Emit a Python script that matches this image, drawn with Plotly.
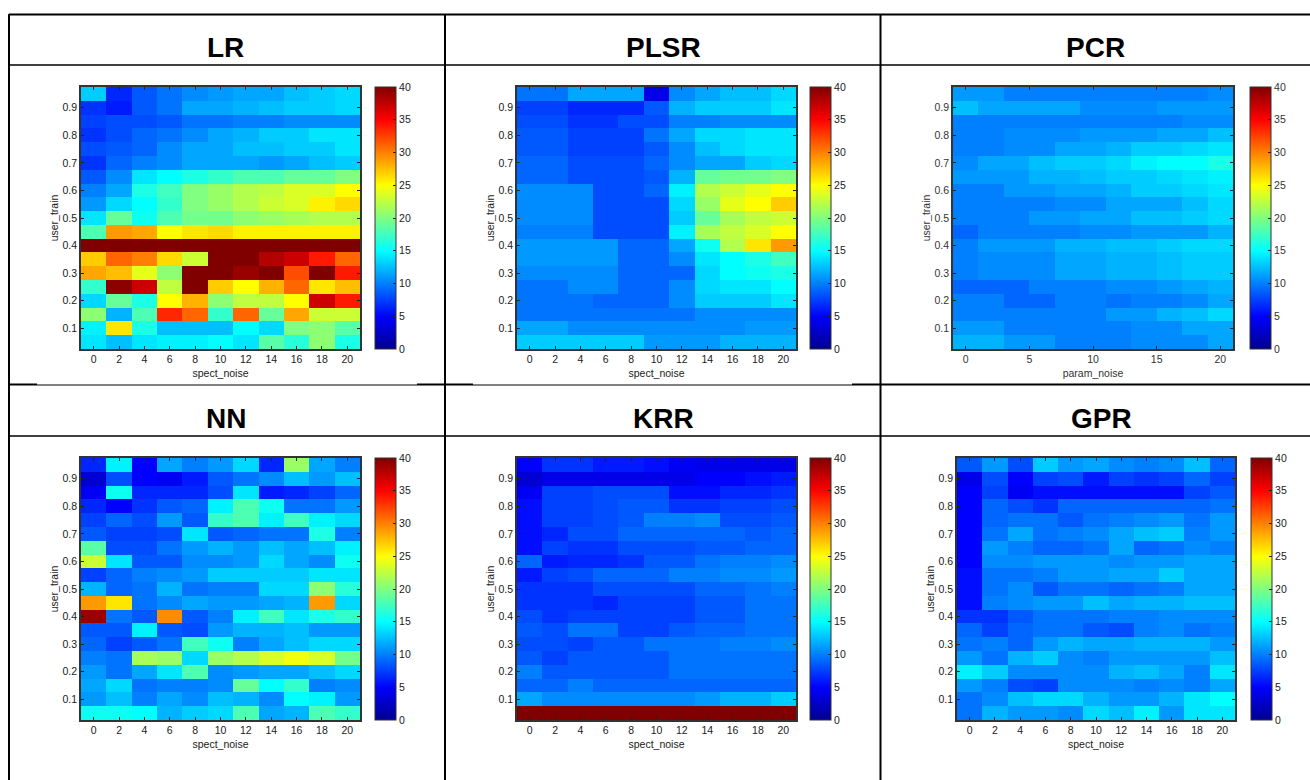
import plotly.graph_objects as go

W, H = 1310, 780
FONT = "Liberation Sans"

x_even = [0, 2, 4, 6, 8, 10, 12, 14, 16, 18, 20]
user_train = [0.95, 0.90, 0.85, 0.80, 0.75, 0.70, 0.65, 0.60, 0.55, 0.50,
              0.45, 0.40, 0.35, 0.30, 0.25, 0.20, 0.15, 0.10, 0.05]
y_ticks = [0.1, 0.2, 0.3, 0.4, 0.5, 0.6, 0.7, 0.8, 0.9]
cbar_ticks = [0, 5, 10, 15, 20, 25, 30, 35, 40]

LR = [
    [13, 6.5, 8.5, 9.5, 10.5, 11, 11.5, 11.5, 12.5, 13, 13.5],
    [7, 6, 8.5, 9.5, 11.5, 11.5, 12, 12.5, 13, 13, 13.5],
    [7.5, 8, 8, 8.5, 9.5, 9.5, 10, 10, 10.5, 10.5, 10.5],
    [7, 8, 9, 9.5, 10.5, 11.5, 12, 13, 13, 14, 14],
    [8, 8.5, 9, 10.5, 11.5, 11.5, 12.5, 12.5, 13, 13, 14],
    [7, 9, 10, 10.5, 11.5, 11.5, 11.5, 11, 11.5, 12.5, 13],
    [8.5, 10.5, 14, 15, 16, 17, 18, 18, 19, 19, 20],
    [10, 11.5, 16, 17.5, 20, 21, 22, 22.5, 23.5, 23.5, 25],
    [11, 13.5, 15, 17, 20, 21, 22, 23, 23.5, 25.5, 26.5],
    [14, 19, 15.5, 18, 19.5, 19.5, 20.5, 21, 21.5, 22, 22],
    [18, 29, 28.5, 25, 26, 26.5, 25.5, 25.5, 25.5, 25.5, 25.5],
    [40, 40, 40, 40, 40, 40, 40, 40, 40, 40, 40],
    [27, 31, 30, 26.5, 23, 40, 40, 38, 37, 34, 31],
    [28.5, 27.5, 24, 20.5, 40, 40, 39, 40, 32, 40, 34],
    [17, 39.5, 37, 22.5, 40, 27, 25, 28, 31, 26, 27.5],
    [13.5, 19, 16, 25, 28, 20.5, 22.5, 22.5, 25, 37, 34],
    [20.5, 12, 18, 33.5, 31, 17, 31, 19, 28.5, 23, 23],
    [14.5, 26, 16, 12.5, 12.5, 12.5, 15, 13.5, 20, 20.5, 18.5],
    [14, 12.5, 14, 14.5, 14.5, 15, 14, 18.5, 16.5, 20.5, 16],
]
PLSR = [
    [9.5, 9.5, 11.5, 11.5, 11.5, 4, 10.5, 11.5, 12.5, 12.5, 13.5],
    [7.5, 7.5, 6.5, 6.5, 6.5, 8.5, 12, 13, 13, 13, 14],
    [8, 8, 7, 7, 8, 8, 10, 10, 10.5, 10.5, 10.5],
    [8.5, 8.5, 7.5, 7.5, 7.5, 9.5, 11.5, 13.5, 13.5, 14, 14],
    [8.5, 8.5, 7.5, 7.5, 7.5, 8.5, 10.5, 12.5, 13.5, 14, 14],
    [9, 9, 8, 8, 8, 9, 10.5, 11.5, 11.5, 13, 13.5],
    [9, 9, 8, 8, 8, 8.5, 12, 19, 19.5, 19.5, 20],
    [10.5, 10.5, 10.5, 8, 8, 9, 14.5, 22, 23, 24, 25],
    [10.5, 10.5, 10.5, 8, 8, 8, 13.5, 21, 24, 25, 27],
    [10.5, 10.5, 10.5, 8, 8, 8, 13, 19, 21.5, 22.5, 23],
    [10, 10, 10, 8, 8, 8, 14.5, 21.5, 22.5, 23.5, 25],
    [11, 11, 11, 11, 9, 9, 11.5, 15.5, 22, 26, 29],
    [11, 11, 11, 11, 9, 9, 10.5, 14, 15, 16, 17.5],
    [10.5, 10.5, 10.5, 10.5, 9, 9, 9, 13.5, 15, 15.5, 16],
    [9.5, 9.5, 10.5, 10.5, 9, 9, 10.5, 13.5, 14, 14, 15],
    [9.5, 9.5, 9.5, 9, 9, 9, 10.5, 13, 13, 13, 14],
    [9.5, 9.5, 9.5, 9.5, 9.5, 9.5, 9.5, 10.5, 10.5, 10.5, 10.5],
    [11.5, 11.5, 10.5, 10.5, 10.5, 10.5, 10.5, 10.5, 10.5, 11, 11],
    [13, 13, 13, 13, 13, 11, 11, 11, 12, 12, 12],
]
PCR = [
    [11, 11, 10, 10, 10, 10, 10, 10, 10, 10, 10.5],
    [12.5, 11.5, 11.5, 11.5, 11.5, 10.5, 10.5, 10.5, 11, 11, 11],
    [10, 10, 10, 10, 10, 10, 10, 10, 10, 10.5, 10.5],
    [10, 10, 10.5, 10.5, 10.5, 11, 11, 11, 11.5, 11.5, 12.5],
    [10, 10, 10.5, 10.5, 11.5, 11.5, 12, 13, 13, 13.5, 14],
    [10.5, 11.5, 11.5, 12.5, 13, 13, 13.5, 14.5, 15, 15, 16],
    [11, 11, 11, 12, 12, 12.5, 13, 13, 13.5, 14, 14.5],
    [10, 10, 11, 11, 11.5, 11.5, 12, 13, 13, 13.5, 14],
    [10, 10, 10, 10, 10.5, 10.5, 11.5, 11.5, 11.5, 12.5, 13.5],
    [10, 10, 10, 11, 11, 11.5, 11.5, 12.5, 12.5, 13, 13.5],
    [9, 10, 10, 10, 10, 10.5, 10.5, 11, 11, 11, 12],
    [10, 11, 11, 11, 12, 12, 12.5, 12.5, 13, 13.5, 13.5],
    [10, 10.5, 10.5, 10.5, 11.5, 11.5, 12, 12, 12.5, 13, 13],
    [10, 10.5, 10.5, 10.5, 11.5, 11.5, 12, 12, 12.5, 13, 13],
    [9, 9, 9, 10, 10, 10, 10.5, 10.5, 11, 11.5, 12],
    [10, 10, 9, 9, 10, 10, 9.5, 10, 10, 10.5, 11.5],
    [10, 10, 10, 10, 10, 10, 11, 11, 12, 12.5, 13.5],
    [11, 11, 10, 10, 10, 10, 10, 10.5, 10.5, 11.5, 11.5],
    [12, 12, 11, 11, 10, 10, 10, 10.5, 10.5, 10.5, 11.5],
]
NN = [
    [6.5, 14.5, 5, 11.5, 10, 11, 13.5, 6.5, 21, 11.5, 10],
    [3, 8, 5, 4.5, 6, 8.5, 9.5, 10.5, 12.5, 11, 12.5],
    [4.5, 15.5, 6.5, 6.5, 6.5, 8, 14, 6, 6.5, 7.5, 9],
    [6.5, 5, 7, 8.5, 9, 14.5, 18, 15.5, 9.5, 9.5, 11],
    [7.5, 9, 8, 11, 8.5, 17, 18, 14.5, 17.5, 14.5, 13.5],
    [8.5, 7.5, 7.5, 8, 14, 8.5, 9, 9.5, 9.5, 16, 10],
    [18.5, 8, 8, 9.5, 11, 12, 11, 12.5, 11.5, 12.5, 14.5],
    [23, 14, 8.5, 8.5, 10.5, 10.5, 11, 13.5, 11.5, 10.5, 15.5],
    [7.5, 9, 10, 10.5, 11, 13, 13, 13, 13, 14, 14],
    [12, 9, 9.5, 12, 9.5, 10, 10, 13.5, 13.5, 20.5, 16.5],
    [29, 26, 9.5, 10.5, 11.5, 11, 11, 11.5, 12, 29, 13.5],
    [39, 9.5, 8.5, 29.5, 8.5, 10, 14.5, 17.5, 14, 16, 17],
    [8.5, 8.5, 14.5, 8.5, 8, 11, 12, 12, 12.5, 11, 11],
    [9, 7.5, 8.5, 9.5, 17.5, 15.5, 10, 11.5, 12.5, 13.5, 13.5],
    [10, 9.5, 21.5, 21, 13.5, 21, 22, 23.5, 24.5, 23.5, 19.5],
    [11, 9.5, 11.5, 14, 18, 10.5, 11, 11.5, 11.5, 12.5, 13.5],
    [11.5, 13.5, 9.5, 10, 10, 10.5, 19, 15, 17, 10, 10.5],
    [11, 12.5, 10, 11.5, 10.5, 12.5, 12, 10.5, 15, 14.5, 11],
    [15.5, 15.5, 15, 12, 13, 13.5, 18, 11.5, 12, 18, 17],
]
KRR = [
    [5, 7, 7, 6, 6, 5.5, 4.5, 4, 4, 4, 4],
    [3, 4, 4, 4, 4, 4, 4, 5, 5, 5.5, 6],
    [4.5, 7.5, 7.5, 8, 8, 8, 5.5, 5.5, 6.5, 6.5, 7],
    [5.5, 7.5, 7.5, 8, 8.5, 8.5, 7, 7, 7.5, 7.5, 8],
    [5.5, 7.5, 7.5, 8, 8.5, 10, 10, 10.5, 8, 8, 8.5],
    [5.5, 6.5, 8, 8, 9, 9, 9, 9, 9, 8.5, 9],
    [5.5, 7.5, 7, 7, 8, 8, 8, 8.5, 8.5, 9, 9],
    [9, 6, 6.5, 6.5, 7, 8.5, 8.5, 9.5, 10, 10, 10.5],
    [6, 7.5, 8, 9, 9, 9, 10, 10, 10.5, 10.5, 11],
    [7, 7, 7, 8, 8, 8, 8, 9, 9, 9.5, 10],
    [7, 7, 7, 6.5, 7.5, 7.5, 7.5, 8.5, 8.5, 9.5, 9.5],
    [8, 7, 7.5, 7.5, 7.5, 7.5, 7.5, 8.5, 8.5, 9.5, 9.5],
    [8.5, 8, 9.5, 9.5, 7.5, 7.5, 8.5, 9, 9, 9.5, 9.5],
    [8, 8, 7.5, 8.5, 8.5, 9.5, 9.5, 9.5, 10, 10, 10.5],
    [8.5, 7.5, 8.5, 8.5, 8.5, 8.5, 9.5, 9.5, 9.5, 9.5, 9.5],
    [10, 8.5, 8.5, 8.5, 8.5, 8.5, 9.5, 9.5, 9.5, 9.5, 9.5],
    [9, 9, 10, 9, 9, 9, 9, 9, 9, 9, 9],
    [11.5, 10.5, 10.5, 10.5, 10.5, 10.5, 10.5, 11, 12, 12, 13],
    [40, 40, 40, 40, 40, 40, 40, 40, 40, 40, 40],
]
GPR = [
    [8.5, 11, 8, 13, 11, 11.5, 10.5, 10, 10.5, 12.5, 9],
    [4, 8, 5, 7.5, 8, 6, 7.5, 7, 7.5, 9, 7.5],
    [5, 7.5, 4.5, 5.5, 5.5, 5.5, 5.5, 5.5, 5.5, 7.5, 8.5],
    [5, 9, 8, 7, 9, 9, 9, 9, 9, 9, 9.5],
    [5, 9, 9.5, 9.5, 8.5, 9.5, 10, 10.5, 11, 9.5, 11],
    [5, 9.5, 11.5, 9.5, 10, 10.5, 11.5, 12.5, 13, 10, 11],
    [5, 11, 10, 9, 9, 9.5, 11.5, 9, 9.5, 10.5, 10],
    [5, 10.5, 10.5, 11, 11, 11, 10.5, 11, 11, 11.5, 11.5],
    [5.5, 9.5, 9.5, 10, 11, 11, 11.5, 11.5, 13, 11.5, 11.5],
    [5.5, 9.5, 10.5, 8.5, 9.5, 9.5, 9, 9.5, 10, 11.5, 11.5],
    [5.5, 10, 10.5, 11, 11, 12.5, 11.5, 12, 12, 12.5, 12.5],
    [7, 7, 8.5, 9.5, 9.5, 9.5, 10, 10, 10.5, 10.5, 10.5],
    [9, 7.5, 9, 9.5, 9.5, 8.5, 8, 10, 10.5, 9.5, 10],
    [9.5, 10, 9, 11, 12, 11.5, 11.5, 12, 12, 12, 11],
    [11, 9.5, 12, 13, 10.5, 10, 11, 11, 11, 11, 12.5],
    [14.5, 13, 10.5, 10.5, 10.5, 10.5, 12, 12.5, 11.5, 10, 14],
    [11, 10, 8, 7.5, 10.5, 10.5, 10.5, 10, 10.5, 10, 11.5],
    [9.5, 10.5, 12.5, 13.5, 13.5, 12, 11, 11, 12, 14, 15],
    [9.5, 12, 11, 11, 10.5, 13.5, 12.5, 14.5, 11, 14, 14],
]

JET = [
    [0.0, "rgb(0,0,143)"], [0.125, "rgb(0,0,255)"], [0.375, "rgb(0,255,255)"],
    [0.625, "rgb(255,255,0)"], [0.875, "rgb(255,0,0)"], [1.0, "rgb(128,0,0)"],
]

# name, z, x title, x ticks, title centre x, title centre y,
# plot x0, x1, y0, y1, colourbar x0, text colour
panels = [
    ("LR", LR, "spect_noise", x_even, 226, 47, 81, 360, 87, 349, 375, "#1a1a1a"),
    ("PLSR", PLSR, "spect_noise", x_even, 663, 47, 517, 796, 87, 349, 810, "#1a1a1a"),
    ("PCR", PCR, "param_noise", [0, 5, 10, 15, 20], 1095, 47, 953, 1233, 87, 349, 1250, "#333333"),
    ("NN", NN, "spect_noise", x_even, 226, 418, 81, 360, 458, 720, 375, "#1a1a1a"),
    ("KRR", KRR, "spect_noise", x_even, 663, 418, 517, 796, 458, 720, 810, "#1a1a1a"),
    ("GPR", GPR, "spect_noise", x_even, 1101, 418, 957, 1235, 458, 720, 1251, "#1a1a1a"),
]

fig = go.Figure()
annotations = []
for i, (name, z, xt, xticks, tx, ty, x0, x1, y0, y1, cx, ink) in enumerate(panels, start=1):
    suffix = "" if i == 1 else str(i)
    tfont = dict(family=FONT, size=10.5, color=ink)
    fig.add_trace(go.Heatmap(
        x=x_even, y=user_train, z=z, colorscale=JET, zmin=0, zmax=40,
        xaxis="x" + suffix, yaxis="y" + suffix, name=name,
        colorbar=dict(
            x=cx / W, xanchor="left", xpad=0, y=1 - y0 / H, yanchor="top", ypad=0,
            len=(y1 - y0) / H, lenmode="fraction", thickness=21, thicknessmode="pixels",
            outlinecolor="#333", outlinewidth=1, tickvals=cbar_ticks, ticks="inside",
            ticklen=3, tickcolor="#222", tickfont=tfont,
        ),
    ))
    common = dict(ticks="inside", ticklen=3, tickcolor="#222", tickwidth=1, showgrid=False,
                  zeroline=False, showline=True, linecolor="#333", linewidth=1.5, mirror="ticks",
                  tickfont=tfont)
    fig.update_layout({
        "xaxis" + suffix: dict(common, domain=[x0 / W, x1 / W], range=[-1, 21], tickvals=xticks,
                               anchor="y" + suffix, title=dict(text=xt, standoff=5, font=tfont)),
        "yaxis" + suffix: dict(common, domain=[1 - y1 / H, 1 - y0 / H], range=[0.025, 0.975], tickvals=y_ticks,
                               tickformat=".1f", anchor="x" + suffix,
                               title=dict(text="user_train", standoff=2, font=tfont)),
    })
    annotations.append(dict(text=f"<b>{name}</b>", xref="paper", yref="paper", x=tx / W, y=1 - ty / H,
                            xanchor="center", yanchor="middle", showarrow=False,
                            font=dict(family=FONT, size=28, color="black")))


def rule(xa, ya, xb, yb, width=2):
    return dict(type="line", xref="paper", yref="paper", x0=xa / W, x1=xb / W, y0=1 - ya / H, y1=1 - yb / H,
                line=dict(color="black", width=width))


shapes = [
    rule(9, 14.5, W, 14.5), rule(9, 65, W, 65, 1.6), rule(9, 436, W, 436, 1.6),
    rule(9, 14, 9, H), rule(445, 14, 445, H), rule(880.5, 14, 880.5, H),
    rule(9, 384.5, 37, 384.5), rule(37, 385, 417, 385, 1), rule(417, 384.5, 473, 384.5),
    rule(473, 385, 852, 385, 1), rule(852, 384.5, W, 384.5),
]

fig.update_layout(width=W, height=H, margin=dict(l=0, r=0, t=0, b=0), paper_bgcolor="white",
                  plot_bgcolor="white", showlegend=False, annotations=annotations, shapes=shapes)
fig.write_html("out.html", config={"displayModeBar": False},
               post_script="document.body.style.margin='0';")
